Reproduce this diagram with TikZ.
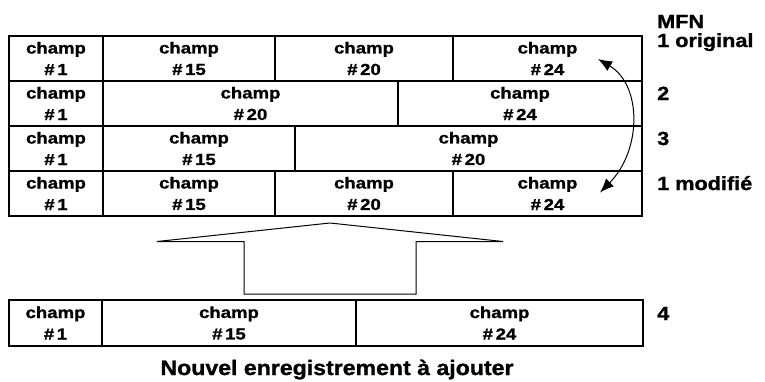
\documentclass[tikz,border=0pt]{standalone}
\usepackage{fontspec}
\setmainfont{Liberation Sans}
\newfontfamily\cellfont{Liberation Sans}[FakeStretch=1.16, FakeBold=1.2]
\newfontfamily\labfont{Liberation Sans}[FakeStretch=1.14, FakeBold=1.2]
\newfontfamily\capfont{Liberation Sans}[FakeStretch=1.1, FakeBold=1.2]
\usetikzlibrary{arrows.meta}
\tikzset{
  cell/.style={draw, line width=1.7pt, inner sep=0pt, outer sep=0pt, align=center,
    minimum height=45pt, font=\cellfont\bfseries\fontsize{16}{21.5}\selectfont},
  lab/.style={anchor=base west, inner sep=0pt, font=\labfont\bfseries\fontsize{19}{20}\selectfont},
  bigarrow/.style={draw, line width=1pt, line join=miter},
  swap/.style={line width=1pt, {Latex[length=14pt,width=11pt]}-{Latex[length=14pt,width=11pt]}}
}
\begin{document}
\begin{tikzpicture}[x=1pt,y=-1pt]
\useasboundingbox (0,0) rectangle (765,381);
% row 1 original
\node[cell, minimum width=94pt]  (r1a) at (56,58.5)    {champ\\\#\,1};
\node[cell, minimum width=172pt] (r1b) at (189,58.5)   {champ\\\#\,15};
\node[cell, minimum width=178pt] (r1c) at (364,58.5)   {champ\\\#\,20};
\node[cell, minimum width=189pt] (r1d) at (547.5,58.5) {champ\\\#\,24};
% row 2
\node[cell, minimum width=94pt]  (r2a) at (56,103.5)    {champ\\\#\,1};
\node[cell, minimum width=295pt] (r2b) at (250.5,103.5) {champ\\\#\,20};
\node[cell, minimum width=244pt] (r2c) at (520,103.5)   {champ\\\#\,24};
% row 3
\node[cell, minimum width=94pt]  (r3a) at (56,148.5)    {champ\\\#\,1};
\node[cell, minimum width=192pt] (r3b) at (199,148.5)   {champ\\\#\,15};
\node[cell, minimum width=347pt] (r3c) at (468.5,148.5) {champ\\\#\,20};
% row 4 modified
\node[cell, minimum width=94pt]  (r4a) at (56,193.5)    {champ\\\#\,1};
\node[cell, minimum width=172pt] (r4b) at (189,193.5)   {champ\\\#\,15};
\node[cell, minimum width=178pt] (r4c) at (364,193.5)   {champ\\\#\,20};
\node[cell, minimum width=189pt] (r4d) at (547.5,193.5) {champ\\\#\,24};
% new record
\node[cell, minimum width=93pt, minimum height=46pt]  (nra) at (55.5,323)  {champ\\\#\,1};
\node[cell, minimum width=254pt, minimum height=46pt] (nrb) at (229,323)   {champ\\\#\,15};
\node[cell, minimum width=287pt, minimum height=46pt] (nrc) at (499.5,323) {champ\\\#\,24};
% labels
\node[lab] (mfn)  at (657,28)  {MFN};
\node[lab] (l1o)  at (657,47)  {1 original};
\node[lab] (l2)   at (657,100) {2};
\node[lab] (l3)   at (657,145) {3};
\node[lab] (l1m)  at (657,190) {1 modifié};
\node[lab] (l4)   at (657,320) {4};
\node[anchor=base, inner sep=0pt, font=\capfont\bfseries\fontsize{21}{24}\selectfont] (cap) at (337,375) {Nouvel enregistrement à ajouter};
% big hollow arrow
\coordinate (sbl) at (244,294);
\coordinate (sbr) at (416,294);
\draw[bigarrow] (sbl) -- (244,241.5) -- (157,241.5) -- (330,223) -- (503,241.5) -- (416,241.5) -- (sbr) -- cycle;
% curved double arrow
\coordinate (topend) at (598,59);
\coordinate (botend) at (600,192.5);
\draw[swap] (topend) .. controls (642,85) and (642,150) .. (botend);
\end{tikzpicture}
\end{document}
